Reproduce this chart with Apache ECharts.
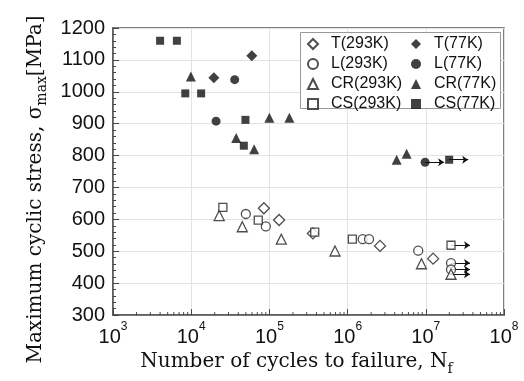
<!DOCTYPE html>
<html>
<head>
<meta charset="utf-8">
<script src="https://cdn.jsdelivr.net/npm/echarts@6/dist/echarts.min.js"></script>
<style>
  html, body { margin: 0; padding: 0; background: #fff; }
  #chart { width: 524px; height: 381px; }
</style>
</head>
<body>
<div id="chart"></div>
<script>
// cycles to failure [N] and max stress [MPa]
const T293 = [[8.5e4, 635], [1.33e5, 598], [3.6e5, 556], [2.6e6, 517], [1.24e7, 477]];
const L293 = [[5.0e4, 617], [9.0e4, 578], [1.56e6, 538], [1.88e6, 538], [8.0e6, 502], [2.1e7, 463], [2.1e7, 443]];
const CR293 = [[2.28e4, 612], [4.5e4, 577], [1.42e5, 538], [6.9e5, 501], [8.8e6, 461], [2.1e7, 428]];
const CS293 = [[2.54e4, 638], [7.2e4, 598], [3.8e5, 560], [1.15e6, 538], [2.1e7, 519]];
const T77 = [[1.95e4, 1044], [5.96e4, 1113]];
const L77 = [[3.6e4, 1038], [2.08e4, 908], [9.8e6, 779]];
const CR77 = [[9.9e3, 1048], [3.76e4, 855], [6.38e4, 820], [1.0e5, 919], [1.8e5, 919], [4.24e6, 787], [5.69e6, 806]];
const CS77 = [[4.0e3, 1160], [6.56e3, 1160], [8.4e3, 995], [1.34e4, 995], [4.94e4, 912], [4.71e4, 831], [1.99e7, 787]];

// run-out specimens (no failure) -> arrow to the right
const runouts = [[2.1e7, 519], [2.1e7, 463], [2.1e7, 443], [2.1e7, 428], [9.8e6, 779], [1.99e7, 787]];
const arrowFactor = 1.75;

const legend293 = ['T(293K)', 'L(293K)', 'CR(293K)', 'CS(293K)'];
const legend77 = ['T(77K)', 'L(77K)', 'CR(77K)', 'CS(77K)'];

const yTicks = { min: 300, max: 1200, step: 100 };
const xDecades = [3, 4, 5, 6, 7, 8];

// 2..9 x 10^n minor ticks of the log axis
const xMinorTicks = [];
xDecades.slice(0, -1).forEach(d => {
  for (let k = 2; k <= 9; k++) xMinorTicks.push(k * Math.pow(10, d));
});

const chart = echarts.init(document.getElementById('chart'));

const hollow = (name, symbol, size, data) => ({
  name, type: 'scatter', data, symbol, symbolSize: size, z: 3,
  itemStyle: { color: '#fff', borderColor: '#222', borderWidth: 1.3 }
});
const solid = (name, symbol, size, data) => ({
  name, type: 'scatter', data, symbol, symbolSize: size, z: 3,
  itemStyle: { color: '#111' }
});

const legendBase = {
  orient: 'vertical', top: 36, z: 11,
  itemGap: 4, itemWidth: 10, itemHeight: 10,
  padding: 0,
  textStyle: { fontFamily: 'Liberation Sans', fontSize: 16, color: '#111', lineHeight: 14, padding: [0, 0, 0, 8] }
};

const option = {
  animation: false,
  grid: { left: 113, right: 20, top: 28, bottom: 65, show: true, borderColor: '#555', borderWidth: 1.5 },
  graphic: [{
    type: 'rect', z: 10, left: 300, top: 32,
    shape: { width: 200, height: 76 },
    style: { fill: '#fff', stroke: '#999', lineWidth: 1 }
  }],
  legend: [
    Object.assign({}, legendBase, { left: 307, data: legend293 }),
    Object.assign({}, legendBase, { left: 411, data: legend77 })
  ],
  xAxis: {
    type: 'log', logBase: 10, min: 1e3, max: 1e8,
    name: '{a|Number of cycles to failure, N}{s|f}',
    nameLocation: 'middle', nameGap: 30,
    nameTextStyle: {
      padding: [0, 24, 0, 0],
      rich: {
        a: { fontFamily: 'DejaVu Serif', fontSize: 20, color: '#111', lineHeight: 28, verticalAlign: 'middle' },
        s: { fontFamily: 'DejaVu Serif', fontSize: 14, color: '#111', lineHeight: 28, verticalAlign: 'bottom' }
      }
    },
    axisLine: { lineStyle: { color: '#555', width: 1.5 } },
    axisTick: { inside: true, length: 6, lineStyle: { color: '#444' } },
    minorTick: { show: false },
    splitLine: { show: true, lineStyle: { color: '#e2e2e2' } },
    axisLabel: {
      margin: 6,
      formatter: v => '{b|10}{e|' + Math.round(Math.log10(v)) + '}',
      rich: {
        b: { fontFamily: 'Liberation Sans', fontSize: 20, color: '#111', lineHeight: 26, verticalAlign: 'bottom' },
        e: { fontFamily: 'Liberation Sans', fontSize: 12, color: '#111', lineHeight: 26, verticalAlign: 'top' }
      }
    }
  },
  yAxis: {
    type: 'value', min: yTicks.min, max: yTicks.max, interval: yTicks.step,
    name: '{a|Maximum cyclic stress, σ}{s|max}{a|[MPa]}',
    nameLocation: 'middle', nameGap: 62,
    nameTextStyle: {
      padding: [0, 36, 0, 0],
      rich: {
        a: { fontFamily: 'DejaVu Serif', fontSize: 20, color: '#111', lineHeight: 28, verticalAlign: 'middle' },
        s: { fontFamily: 'DejaVu Serif', fontSize: 14, color: '#111', lineHeight: 28, verticalAlign: 'bottom' }
      }
    },
    axisLine: { show: true, lineStyle: { color: '#555', width: 1.5 } },
    axisTick: { show: true, inside: true, length: 6, lineStyle: { color: '#444' } },
    minorTick: { show: true, splitNumber: 5, length: 3, lineStyle: { color: '#444' } },
    splitLine: { show: true, lineStyle: { color: '#e2e2e2' } },
    axisLabel: { margin: 8, fontFamily: 'Liberation Sans', fontSize: 20, color: '#111', formatter: v => String(v) }
  },
  series: [
    hollow(legend293[0], 'diamond', 11, T293),
    hollow(legend293[1], 'circle', 9, L293),
    hollow(legend293[2], 'triangle', 10, CR293),
    hollow(legend293[3], 'rect', 8, CS293),
    solid(legend77[0], 'diamond', 11, T77),
    solid(legend77[1], 'circle', 9, L77),
    solid(legend77[2], 'triangle', 10, CR77),
    solid(legend77[3], 'rect', 8, CS77),
    {
      type: 'lines', coordinateSystem: 'cartesian2d', z: 2,
      symbol: ['none', 'arrow'], symbolSize: 6,
      lineStyle: { color: '#111', width: 1, opacity: 1 },
      data: runouts.map(p => ({ coords: [p, [p[0] * arrowFactor, p[1]]] }))
    },
    {
      // minor ticks of the log axis, placed through the axis scale
      type: 'custom', z: 4, silent: true,
      data: xMinorTicks.map(v => [v, yTicks.min]),
      renderItem: (params, api) => {
        const p = api.coord([api.value(0), api.value(1)]);
        return {
          type: 'line',
          shape: { x1: p[0], y1: p[1], x2: p[0], y2: p[1] - 3 },
          style: { stroke: '#444', lineWidth: 1 }
        };
      }
    }
  ]
};

chart.setOption(option);
</script>
</body>
</html>
